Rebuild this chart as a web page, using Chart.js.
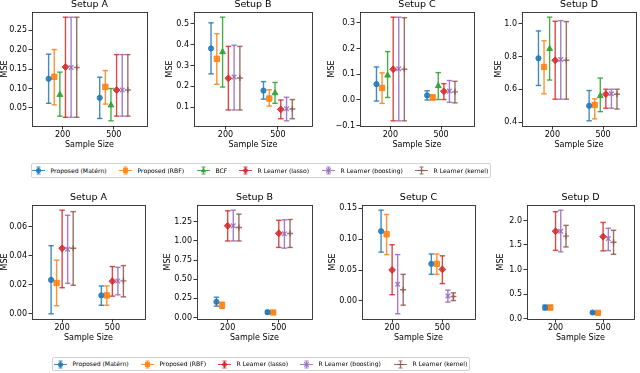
<!DOCTYPE html>
<html>
<head>
<meta charset="utf-8">
<script src="https://cdn.jsdelivr.net/npm/chart.js@4.4.1/dist/chart.umd.min.js"></script>
<style>
  body { margin: 0; width: 640px; height: 373px; background: #fff; position: relative; overflow: hidden; font-family: "DejaVu Sans", sans-serif; }
  canvas { position: absolute; }
  .legend { position: absolute; border: 1px solid #d3d3d3; border-radius: 2px; background: #fff; box-sizing: border-box; }
  .legend svg { position: absolute; display: block; }
  .legend span { position: absolute; font-size: 6.1px; line-height: 8px; white-space: nowrap; color: #000; }
</style>
</head>
<body>
<script>
// ---- data ----
const sampleSizes = ['200', '500'];
const row1Methods = ['Proposed (Matérn)', 'Proposed (RBF)', 'BCF', 'R Learner (lasso)', 'R Learner (boosting)', 'R Learner (kernel)'];
const row2Methods = ['Proposed (Matérn)', 'Proposed (RBF)', 'R Learner (lasso)', 'R Learner (boosting)', 'R Learner (kernel)'];

// one entry per method: [[low, mean, high] at n=200, [low, mean, high] at n=500]
const row1A = [
  [[0.062, 0.125, 0.188], [0.023, 0.076, 0.129]],
  [[0.058, 0.130, 0.200], [0.060, 0.104, 0.146]],
  [[0.029, 0.084, 0.142], [0.017, 0.057, 0.100]],
  [[0.026, 0.155, 0.283], [0.029, 0.096, 0.187]],
  [[0.026, 0.154, 0.283], [0.029, 0.096, 0.187]],
  [[0.026, 0.154, 0.283], [0.029, 0.096, 0.187]]
];
const row1B = [
  [[0.260, 0.382, 0.505], [0.139, 0.180, 0.223]],
  [[0.210, 0.332, 0.453], [0.106, 0.142, 0.184]],
  [[0.197, 0.365, 0.532], [0.119, 0.168, 0.219]],
  [[0.087, 0.239, 0.392], [0.045, 0.090, 0.135]],
  [[0.087, 0.245, 0.398], [0.035, 0.093, 0.148]],
  [[0.087, 0.240, 0.392], [0.045, 0.092, 0.137]]
];
const row1C = [
  [[-0.005, 0.061, 0.128], [-0.001, 0.017, 0.035]],
  [[-0.014, 0.046, 0.105], [0.000, 0.009, 0.018]],
  [[0.009, 0.095, 0.188], [0.001, 0.054, 0.106]],
  [[-0.082, 0.119, 0.322], [0.001, 0.033, 0.063]],
  [[-0.082, 0.121, 0.322], [-0.010, 0.034, 0.075]],
  [[-0.082, 0.119, 0.320], [-0.012, 0.031, 0.072]]
];
const row1D = [
  [[0.624, 0.790, 0.957], [0.408, 0.500, 0.593]],
  [[0.573, 0.737, 0.897], [0.420, 0.505, 0.542]],
  [[0.657, 0.848, 1.041], [0.464, 0.560, 0.669]],
  [[0.540, 0.778, 1.016], [0.485, 0.571, 0.601]],
  [[0.540, 0.782, 1.020], [0.485, 0.573, 0.601]],
  [[0.540, 0.778, 1.014], [0.480, 0.570, 0.601]]
];
const row2A = [
  [[0.0000, 0.0234, 0.0470], [0.0059, 0.0127, 0.0192]],
  [[0.0056, 0.0213, 0.0370], [0.0059, 0.0127, 0.0192]],
  [[0.0180, 0.0452, 0.0715], [0.0122, 0.0225, 0.0326]],
  [[0.0210, 0.0445, 0.0680], [0.0131, 0.0227, 0.0321]],
  [[0.0197, 0.0452, 0.0705], [0.0117, 0.0227, 0.0333]]
];
const row2B = [
  [[0.148, 0.205, 0.265], [0.048, 0.070, 0.090]],
  [[0.118, 0.160, 0.200], [0.055, 0.065, 0.075]],
  [[1.000, 1.198, 1.394], [0.915, 1.100, 1.270]],
  [[1.000, 1.200, 1.402], [0.906, 1.093, 1.276]],
  [[1.000, 1.176, 1.350], [0.915, 1.098, 1.280]]
];
const row2C = [
  [[0.079, 0.113, 0.147], [0.043, 0.060, 0.076]],
  [[0.075, 0.108, 0.140], [0.043, 0.060, 0.076]],
  [[0.010, 0.050, 0.091], [0.028, 0.051, 0.073]],
  [[-0.021, 0.027, 0.075], [-0.002, 0.008, 0.0175]],
  [[-0.007, 0.018, 0.043], [0.0005, 0.007, 0.013]]
];
const row2D = [
  [[0.177, 0.225, 0.273], [0.100, 0.123, 0.143]],
  [[0.184, 0.225, 0.266], [0.096, 0.116, 0.136]],
  [[1.390, 1.780, 2.180], [1.380, 1.670, 1.960]],
  [[1.360, 1.780, 2.210], [1.386, 1.630, 1.840]],
  [[1.460, 1.680, 1.900], [1.310, 1.556, 1.800]]
];

// y tick labels per panel
const row1ATicks = ['0.05', '0.10', '0.15', '0.20', '0.25'];
const row1BTicks = ['0.1', '0.2', '0.3', '0.4', '0.5'];
const row1CTicks = ['\u22120.1', '0.0', '0.1', '0.2', '0.3'];
const row1DTicks = ['0.4', '0.6', '0.8', '1.0'];
const row2ATicks = ['0.00', '0.02', '0.04', '0.06'];
const row2BTicks = ['0.00', '0.25', '0.50', '0.75', '1.00', '1.25'];
const row2CTicks = ['0.00', '0.05', '0.10', '0.15'];
const row2DTicks = ['0.0', '0.5', '1.0', '1.5', '2.0'];

// ---- styles ----
const family = '"DejaVu Sans", sans-serif';
const colorOf = {
  'Proposed (Matérn)': 'rgba(31,119,180,0.85)',
  'Proposed (RBF)': 'rgba(255,127,14,0.85)',
  'BCF': 'rgba(44,160,44,0.85)',
  'R Learner (lasso)': 'rgba(214,39,40,0.85)',
  'R Learner (boosting)': 'rgba(148,103,189,0.85)',
  'R Learner (kernel)': 'rgba(140,86,75,0.85)'
};
const markerOf = {
  'Proposed (Matérn)': ['circle', 2.6],
  'Proposed (RBF)': ['rect', 3.8],
  'BCF': ['triangle', 3.4],
  'R Learner (lasso)': ['rectRot', 3.4],
  'R Learner (boosting)': ['crossRot', 3.2],
  'R Learner (kernel)': ['cross', 3]
};

const panels = [
  { title: 'Setup A', data: row1A, methods: row1Methods, ticks: row1ATicks, box: [32, 12, 147, 126], mse: 4.5 },
  { title: 'Setup B', data: row1B, methods: row1Methods, ticks: row1BTicks, box: [194, 12, 312, 126], mse: 170 },
  { title: 'Setup C', data: row1C, methods: row1Methods, ticks: row1CTicks, box: [360, 12, 474, 126], mse: 332 },
  { title: 'Setup D', data: row1D, methods: row1Methods, ticks: row1DTicks, box: [522, 12, 636, 126], mse: 499 },
  { title: 'Setup A', data: row2A, methods: row2Methods, ticks: row2ATicks, box: [32, 205, 145, 319], mse: 4.5 },
  { title: 'Setup B', data: row2B, methods: row2Methods, ticks: row2BTicks, box: [197, 205, 312, 319], mse: 168 },
  { title: 'Setup C', data: row2C, methods: row2Methods, ticks: row2CTicks, box: [362, 205, 475, 319], mse: 333 },
  { title: 'Setup D', data: row2D, methods: row2Methods, ticks: row2DTicks, box: [527, 205, 634, 319], mse: 501 }
];

const frame = {
  id: 'frame',
  afterDatasetsDraw(chart) {
    const { ctx, chartArea: a } = chart;
    ctx.save();
    ctx.strokeStyle = '#2b2b2b';
    ctx.lineWidth = 0.9;
    ctx.strokeRect(a.left + 0.5, a.top + 0.5, a.right - a.left, a.bottom - a.top);
    ctx.restore();
  }
};

function drawPanel(p) {
  const [L, T, R, B] = p.box;
  const left = Math.max(0, Math.round(p.mse - 4.8));
  const yW = L - left;
  const cw = 2 * yW + (R - L), ch = 14 + (B - T) + 24;
  const cv = document.createElement('canvas');
  cv.width = cw; cv.height = ch;
  cv.style.left = left + 'px'; cv.style.top = (T - 14) + 'px';
  cv.style.width = cw + 'px'; cv.style.height = ch + 'px';
  document.body.appendChild(cv);

  const datasets = [];
  p.methods.forEach((m, i) => {
    const off = (i - (p.methods.length - 1) / 2) * 0.11;
    const col = colorOf[m];
    const [style, r] = markerOf[m];
    datasets.push({
      type: 'scatter', label: m, order: 0,
      data: sampleSizes.map((s, k) => ({ x: k + off, y: p.data[i][k][1] })),
      pointStyle: style, pointRadius: r, backgroundColor: col, borderColor: col,
      pointBorderWidth: (style === 'cross' || style === 'crossRot') ? 1.4 : 1
    });
    sampleSizes.forEach((s, k) => {
      datasets.push({
        type: 'line', order: 1,
        data: [{ x: k + off, y: p.data[i][k][0] }, { x: k + off, y: p.data[i][k][2] }],
        borderColor: col, borderWidth: 1.4, fill: false,
        pointStyle: 'line', pointRadius: 2.7, pointBorderWidth: 1.4, pointBorderColor: col
      });
    });
  });

  const lows = p.data.flat().map(v => v[0]);
  const highs = p.data.flat().map(v => v[2]);
  const lo = Math.min(...lows), hi = Math.max(...highs);
  const pad = 0.05 * (hi - lo);
  const yVals = p.ticks.map(t => parseFloat(t.replace('\u2212', '-')));

  new Chart(cv, {
    type: 'scatter',
    data: { datasets },
    options: {
      responsive: false, animation: false, events: [],
      layout: { padding: 0 },
      plugins: {
        legend: { display: false }, tooltip: { enabled: false },
        title: { display: true, text: p.title, color: '#000', font: { family, size: 9.5, weight: 'normal' }, padding: { top: 1, bottom: 1.6 } }
      },
      scales: {
        x: {
          type: 'linear', min: -0.6, max: 1.65,
          afterBuildTicks: s => { s.ticks = sampleSizes.map((_, k) => ({ value: k })); },
          afterFit: s => { s.height = 24; },
          ticks: { callback: (v, i) => sampleSizes[i], color: '#000', font: { family, size: 8 }, padding: 1, autoSkip: false, maxRotation: 0 },
          grid: { drawOnChartArea: false, drawTicks: true, tickLength: 3.5, color: '#000', lineWidth: 0.8 },
          border: { display: false },
          title: { display: true, text: 'Sample Size', color: '#000', font: { family, size: 8 }, padding: 0 }
        },
        y: {
          type: 'linear', position: 'left', min: lo - pad, max: hi + pad,
          afterBuildTicks: s => { s.ticks = yVals.map(v => ({ value: v })); },
          afterFit: s => { s.width = yW; },
          ticks: { callback: (v, i) => p.ticks[i], color: '#000', font: { family, size: 8 }, padding: 1.5, autoSkip: false },
          grid: { drawOnChartArea: false, drawTicks: true, tickLength: 3.5, color: '#000', lineWidth: 0.8 },
          border: { display: false },
          title: { display: true, text: 'MSE', color: '#000', font: { family, size: 8 }, padding: 0 }
        },
        yPad: {
          type: 'linear', position: 'right', display: true,
          afterFit: s => { s.width = yW; },
          ticks: { display: false }, grid: { display: false }, border: { display: false }
        }
      }
    },
    plugins: [frame]
  });
}

panels.forEach(drawPanel);

// ---- legends ----
function markerSvg(m) {
  const c = colorOf[m];
  const [style] = markerOf[m];
  let mk = '';
  if (style === 'circle') mk = `<circle cx="6.5" cy="4.5" r="2.6" fill="${c}"/>`;
  else if (style === 'rect') mk = `<rect x="4" y="2" width="5" height="5" fill="${c}"/>`;
  else if (style === 'triangle') mk = `<polygon points="6.5,1.6 9.3,6.3 3.7,6.3" fill="${c}"/>`;
  else if (style === 'rectRot') mk = `<polygon points="6.5,1.3 9.6,4.5 6.5,7.7 3.4,4.5" fill="${c}"/>`;
  else if (style === 'crossRot') mk = `<path d="M4.3 2.3L8.7 6.7M8.7 2.3L4.3 6.7" stroke="${c}" stroke-width="1.3"/>`;
  else mk = `<path d="M3.5 4.5H9.5" stroke="${c}" stroke-width="1.3"/>`;
  return `<svg width="13" height="9" viewBox="0 0 13 9"><path d="M0 4.5H13M6.5 1V8M4.5 1H8.5M4.5 8H8.5" stroke="${c}" stroke-width="1.2" fill="none"/>${mk}</svg>`;
}

function makeLegend(methods, box, itemX) {
  const el = document.createElement('div');
  el.className = 'legend';
  const h = box[3] - box[1];
  el.style.left = box[0] + 'px'; el.style.top = box[1] + 'px';
  el.style.width = (box[2] - box[0]) + 'px'; el.style.height = h + 'px';
  const mid = (h - 2) / 2;
  methods.forEach((m, i) => {
    const x = itemX[i] - box[0] - 1;
    const holder = document.createElement('div');
    holder.innerHTML = markerSvg(m);
    const svg = holder.firstChild;
    svg.style.left = x + 'px';
    svg.style.top = (mid - 4.5) + 'px';
    el.appendChild(svg);
    const t = document.createElement('span');
    t.textContent = m;
    t.style.left = (x + 18.5) + 'px';
    t.style.top = (mid - 4) + 'px';
    el.appendChild(t);
  });
  document.body.appendChild(el);
}

makeLegend(row1Methods, [31, 163, 491, 178], [32, 119, 197, 239, 322, 415]);
makeLegend(row2Methods, [52, 357, 470, 371], [54, 141, 218, 300, 394]);
</script>
</body>
</html>
